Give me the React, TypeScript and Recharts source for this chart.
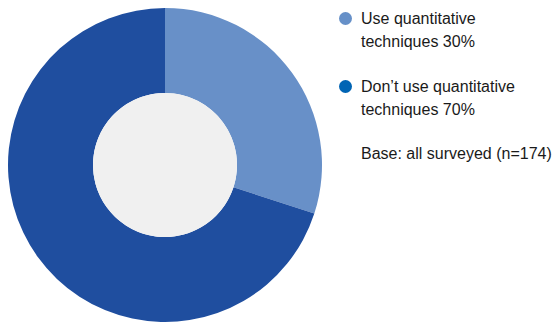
import { Legend, Pie, PieChart, Cell } from "recharts";

const categories = ["Use quantitative techniques", "Don’t use quantitative techniques"];
const shares = [30, 70];
const legendLines = [
  ["Use quantitative", "techniques"],
  ["Don’t use quantitative", "techniques"],
];
const baseNote = "Base: all surveyed (n=174)";

const sliceColors = ["#6890c8", "#1f4e9f"];
const dotColors = ["#6690c8", "#0064b4"];

const data = categories.map((name, i) => ({ name, value: shares[i] }));
const hole = [{ name: "hole", value: 1 }];

const FONT = '"Liberation Sans", Arial, sans-serif';

function LegendBlock() {
  const tops = [7, 75];
  return (
    <div style={{ position: "relative", width: 228, height: 180, fontFamily: FONT, fontSize: 16, lineHeight: "23px", color: "#1a1a1a" }}>
      {data.map((d, i) => (
        <div key={d.name} style={{ position: "absolute", left: 0, top: tops[i] }}>
          <span
            style={{
              position: "absolute",
              left: 8.5,
              top: 4.5,
              width: 13,
              height: 13,
              borderRadius: "50%",
              background: dotColors[i],
            }}
          />
          <div style={{ marginLeft: 31, whiteSpace: "nowrap" }}>
            {legendLines[i][0]}
            <br />
            {legendLines[i][1]} {d.value}%
          </div>
        </div>
      ))}
      <div style={{ position: "absolute", left: 31, top: 142, whiteSpace: "nowrap" }}>{baseNote}</div>
    </div>
  );
}

export default function App() {
  return (
    <div style={{ position: "absolute", left: 0, top: 0, width: 558, height: 324, background: "#fff" }}>
      <PieChart width={558} height={324} margin={{ top: 0, right: 0, bottom: 0, left: 0 }}>
        <Pie
          data={data}
          dataKey="value"
          cx={165}
          cy={165}
          innerRadius={72}
          outerRadius={157}
          startAngle={90}
          endAngle={-270}
          stroke="none"
          isAnimationActive={false}
        >
          {data.map((d, i) => (
            <Cell key={d.name} fill={sliceColors[i]} />
          ))}
        </Pie>
        <Pie
          data={hole}
          dataKey="value"
          cx={165}
          cy={165}
          innerRadius={0}
          outerRadius={72}
          fill="#f0f0f0"
          stroke="none"
          isAnimationActive={false}
        />
        <Legend
          content={() => <LegendBlock />}
          wrapperStyle={{ position: "absolute", left: 330, top: 0, width: 228 }}
        />
      </PieChart>
    </div>
  );
}
